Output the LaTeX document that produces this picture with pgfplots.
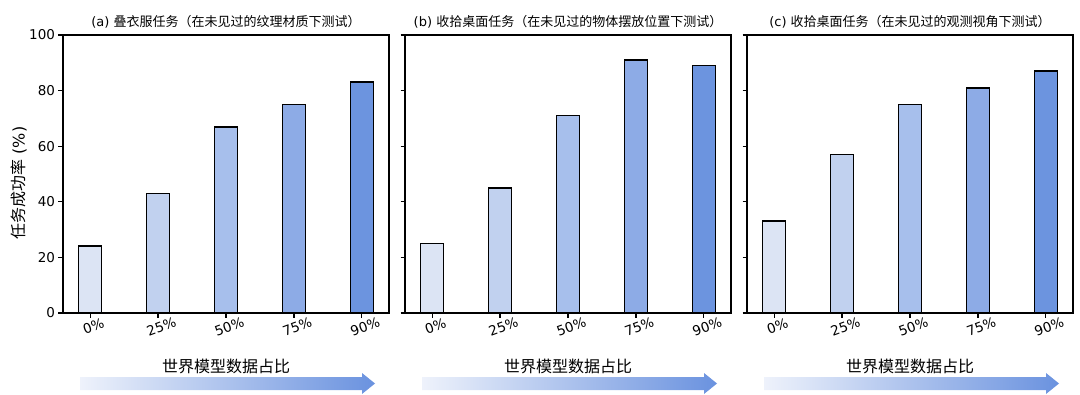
\documentclass[border=0pt]{standalone}
\usepackage{fontspec}
\setmainfont{DejaVu Sans}
\newfontfamily\cjk{Noto Sans CJK SC}
\usepackage{pgfplots}
\pgfplotsset{compat=1.18}
\definecolor{c0}{HTML}{DCE4F4}
\definecolor{c1}{HTML}{C1D1EF}
\definecolor{c2}{HTML}{A7BFEC}
\definecolor{c3}{HTML}{8DABE6}
\definecolor{c4}{HTML}{6C94DF}
\definecolor{arL}{HTML}{EEF2FB}
\definecolor{arR}{HTML}{6A92DF}
\pgfplotsset{panel/.style={
  anchor=south west, scale only axis, width=326pt, height=278pt,
  ymin=0, ymax=100, xmin=-0.4, xmax=4.4,
  ybar, bar width=23pt, /pgf/bar shift=0pt,
  xtick={0,1,2,3,4}, xticklabels={0\%,25\%,50\%,75\%,90\%},
  ytick={0,20,40,60,80,100},
  tick align=outside, xtick pos=bottom, ytick pos=left,
  major tick length=4.5pt,
  axis line style={line width=1.4pt},
  tick style={line width=1.2pt, black},
  every axis plot/.append style={draw=black, line width=1.6pt},
  ticklabel style={font=\fontsize{13.5}{15}\selectfont},
  xticklabel style={rotate=20, anchor=north, yshift=-1pt},
  /pgf/number format/assume math mode=true,
  title style={font=\fontsize{13}{15}\selectfont, yshift=-3pt},
}}
\begin{document}
\begin{tikzpicture}[x=1pt,y=1pt]
\path[use as bounding box] (0,0) rectangle (1080,394);
% panel a
\begin{axis}[panel, at={(63pt,81pt)}, title={(a) {\cjk 叠衣服任务（在未见过的纹理材质下测试）}}]
\addplot[fill=c0] coordinates {(0,24)};
\addplot[fill=c1] coordinates {(1,43)};
\addplot[fill=c2] coordinates {(2,67)};
\addplot[fill=c3] coordinates {(3,75)};
\addplot[fill=c4] coordinates {(4,83)};
\end{axis}
% panel b
\begin{axis}[panel, at={(405pt,81pt)}, yticklabels={}, title={(b) {\cjk 收拾桌面任务（在未见过的物体摆放位置下测试）}}]
\addplot[fill=c0] coordinates {(0,25)};
\addplot[fill=c1] coordinates {(1,45)};
\addplot[fill=c2] coordinates {(2,71)};
\addplot[fill=c3] coordinates {(3,91)};
\addplot[fill=c4] coordinates {(4,89)};
\end{axis}
% panel c
\begin{axis}[panel, at={(747pt,81pt)}, yticklabels={}, title={(c) {\cjk 收拾桌面任务（在未见过的观测视角下测试）}}]
\addplot[fill=c0] coordinates {(0,33)};
\addplot[fill=c1] coordinates {(1,57)};
\addplot[fill=c2] coordinates {(2,75)};
\addplot[fill=c3] coordinates {(3,81)};
\addplot[fill=c4] coordinates {(4,87)};
\end{axis}
\node[rotate=90, font=\fontsize{16}{18}\selectfont] at (19,211) {{\cjk 任务成功率} (\%)};
\foreach \ox in {0,342,684} {
  \node[font=\cjk\fontsize{16}{18}\selectfont] at (226+\ox,28) {世界模型数据占比};
  \shade[left color=arL, right color=arR] (80+\ox,4) -- (362+\ox,4) -- (362+\ox,0) -- (375+\ox,10.5) -- (362+\ox,21) -- (362+\ox,17) -- (80+\ox,17) -- cycle;
}
\end{tikzpicture}
\end{document}
